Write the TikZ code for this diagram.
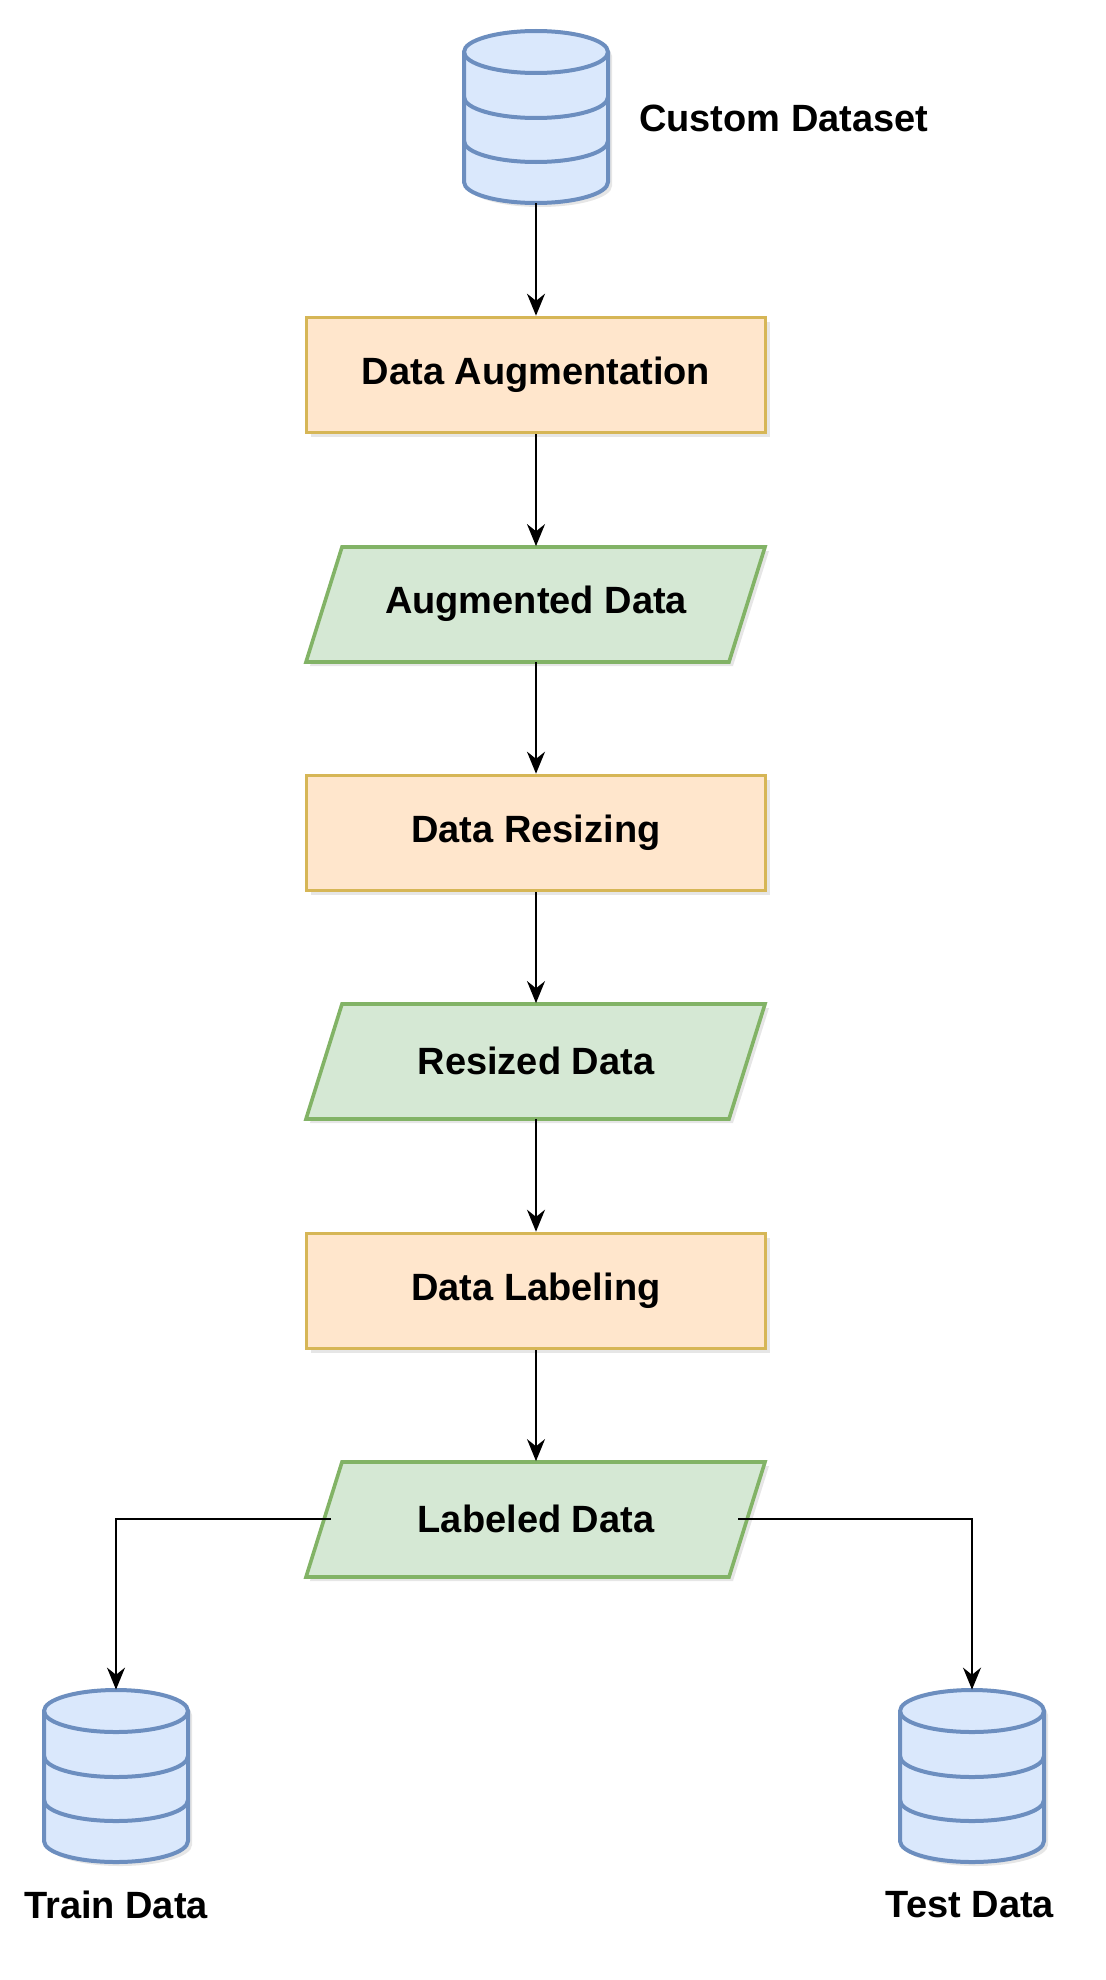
\documentclass[tikz,border=0pt]{standalone}
\usepackage{fontspec}
\setmainfont{Liberation Sans}
\usetikzlibrary{shadows,arrows.meta}
\definecolor{bfill}{HTML}{DAE8FC}\definecolor{bline}{HTML}{6C8EBF}
\definecolor{ofill}{HTML}{FFE6CC}\definecolor{oline}{HTML}{D6B656}
\definecolor{gfill}{HTML}{D5E8D4}\definecolor{gline}{HTML}{82B366}
\newcommand{\dbcyl}[3]{% name, x, y(top of shape)
  \begin{scope}[shift={(#2,#3)}]
  \path[fill=bfill,draw=bline,line width=2pt,drop shadow={opacity=0.2,shadow xshift=2pt,shadow yshift=-2pt}]
    (-72,21) -- (-72,151) arc[start angle=180,end angle=360,x radius=72,y radius=-21] -- (72,21)
    arc[start angle=0,end angle=180,x radius=72,y radius=-21] -- cycle;
  \draw[draw=bline,line width=2pt] (-72,21) arc[start angle=180,end angle=360,x radius=72,y radius=-21];
  \draw[draw=bline,line width=2pt] (-72,66) arc[start angle=180,end angle=360,x radius=72,y radius=-21];
  \draw[draw=bline,line width=2pt] (-72,110) arc[start angle=180,end angle=360,x radius=72,y radius=-21];
  \end{scope}
  \node[minimum width=72pt,minimum height=86pt,inner sep=0pt] (#1) at (#2,#3+86) {};
}
\begin{document}
\begin{tikzpicture}[x=0.5pt,y=-0.5pt,
  txt/.style={font=\fontsize{19}{21}\selectfont\bfseries},
  proc/.style={txt,draw=oline,fill=ofill,line width=1.8pt,minimum width=229.5pt,minimum height=57.5pt,inner sep=0pt,drop shadow={opacity=0.2,shadow xshift=2pt,shadow yshift=-2pt}},
  dat/.style={txt,minimum width=229.5pt,minimum height=57.5pt,inner sep=0pt},
  arr/.style={-{Stealth[length=11pt,width=9pt]},line width=1pt}]
\useasboundingbox (0,0) rectangle (1105,1980);
\newcommand{\para}[3]{%
  \path[fill=gfill,draw=gline,line width=1.8pt,drop shadow={opacity=0.2,shadow xshift=2pt,shadow yshift=-2pt}]
    (342,#2-57) -- (765,#2-57) -- (729,#2+58) -- (306,#2+58) -- cycle;
  \node[dat] (#1) at (536,#2) {#3};}
\dbcyl{cd}{536}{31}
\node[txt,anchor=west] (cdl) at (632,118) {Custom Dataset};
\node[proc] (aug) at (536,375) {Data Augmentation};
\para{augd}{604}{Augmented Data}
\node[proc] (res) at (536,833) {Data Resizing};
\para{resd}{1061}{Resized Data}
\node[proc] (lab) at (536,1291) {Data Labeling};
\para{labd}{1519}{Labeled Data}
\dbcyl{tr}{116}{1690}
\dbcyl{te}{972}{1690}
\node[txt] (trl) at (116,1905) {Train Data};
\node[txt] (tel) at (970,1905) {Test Data};
\draw[arr] (cd.south) -- (aug.north);
\draw[arr] (aug.south) -- (augd.north);
\draw[arr] (augd.south) -- (res.north);
\draw[arr] (res.south) -- (resd.north);
\draw[arr] (resd.south) -- (lab.north);
\draw[arr] (lab.south) -- (labd.north);
\coordinate (lo) at (331,1519);
\coordinate (ro) at (738,1519);
\draw[arr] (lo) -| (tr.north);
\draw[arr] (ro) -| (te.north);
\end{tikzpicture}
\end{document}
